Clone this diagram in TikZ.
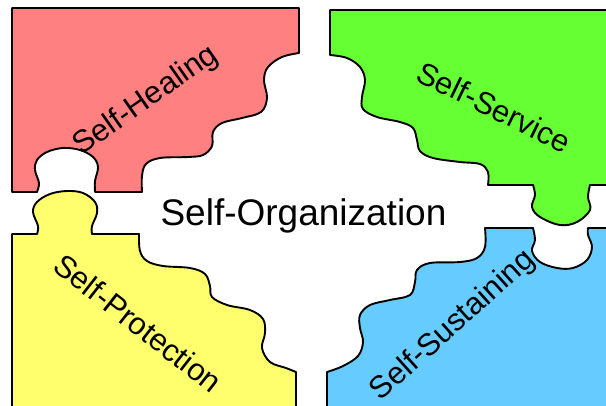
\documentclass[tikz,border=0pt]{standalone}
\usepackage{fontspec}
\setmainfont{Liberation Sans}
\definecolor{pred}{RGB}{255,128,128}
\definecolor{pgreen}{RGB}{102,255,51}
\definecolor{pyellow}{RGB}{255,255,110}
\definecolor{pblue}{RGB}{102,204,255}
\begin{document}
\begin{tikzpicture}[x=1pt,y=-1pt,
  piece/.style={draw=black,line width=1.9pt,line join=round},
  lbl/.style={font=\fontsize{31}{36}\selectfont,inner sep=0pt},
  ctr/.style={font=\fontsize{37}{44}\selectfont,inner sep=0pt}]
\useasboundingbox (0,0) rectangle (606,405);
\clip (0,0) rectangle (606,405);
% red
\draw[piece,fill=pred] (12,8) -- (299,8) -- (299,53)
  -- plot[smooth,tension=.6] coordinates {(299,53) (282,57) (268,67) (264,80) (267,98) (261,112) (242,118) (222,123) (213,132) (212,146) (203,155) (188,157) (160,158) (146,164) (142,176) (142,192)}
  -- (95,192)
  -- plot[smooth,tension=.6] coordinates {(95,192) (95,181) (98,167) (93,157) (80,150) (63,148) (47,152) (37,160) (35,170) (39,183) (37,192)}
  -- (12,192) -- cycle;
% yellow
\draw[piece,fill=pyellow] (12,234) -- (37,234)
  -- plot[smooth,tension=.6] coordinates {(37,234) (38,226) (33,212) (37,202) (50,194) (67,191) (83,193) (95,202) (97,213) (92,226) (92,234)}
  -- (139,234)
  -- plot[smooth,tension=.6] coordinates {(139,234) (140,251) (147,261) (163,266) (190,268) (205,274) (210,286) (212,297) (227,305) (250,310) (263,319) (265,333) (262,348) (270,362) (286,368) (296,372)}
  -- (296,412) -- (12,412) -- cycle;
% green
\draw[piece,fill=pgreen] (330,10) -- (612,10) -- (612,185) -- (590,185)
  -- plot[smooth,tension=.6] coordinates {(590,185) (588,197) (590,210) (577,222) (560,225) (540,217) (532,207) (535,195) (533,185)}
  -- (488,185)
  -- plot[smooth,tension=.6] coordinates {(488,185) (488,172) (480,164) (460,162) (433,158) (420,151) (417,140) (413,128) (400,122) (377,117) (363,109) (362,97) (365,80) (360,67) (347,58) (330,55)}
  -- cycle;
% blue
\draw[piece,fill=pblue] (327,412) -- (327,372)
  -- plot[smooth,tension=.6] coordinates {(327,372) (343,366) (358,356) (363,342) (360,328) (360,315) (370,305) (390,300) (410,295) (415,282) (417,270) (430,263) (460,262) (477,258) (485,247) (485,228)}
  -- (533,228)
  -- plot[smooth,tension=.6] coordinates {(533,228) (535,240) (532,251) (540,262) (557,268) (573,268) (587,260) (592,247) (588,235) (588,228)}
  -- (612,228) -- (612,412) -- cycle;
% labels
\node[ctr,anchor=base] (org) at (303.5,225) {Self-Organization};
\node[lbl,rotate=35] (heal) at (146,101) {Self-Healing};
\node[lbl,rotate=-26] (serv) at (494,107) {Self-Service};
\node[lbl,rotate=-38] (prot) at (138,323) {Self-Protection};
\node[lbl,rotate=42] (sust) at (453,326) {Self-Sustaining};
\end{tikzpicture}
\end{document}
